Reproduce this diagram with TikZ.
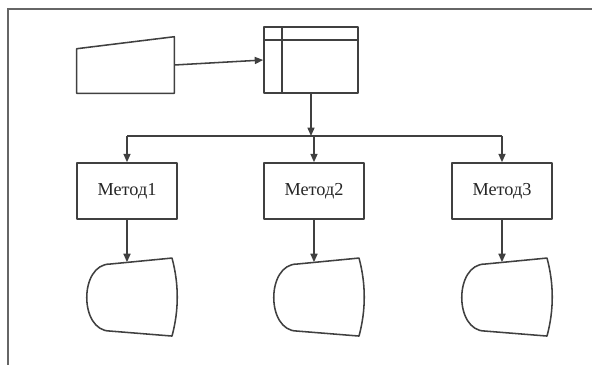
\documentclass[tikz,border=0pt]{standalone}
\usepackage{fontspec}
\setmainfont{Liberation Serif}
\usetikzlibrary{arrows.meta}
\usetikzlibrary{positioning}

\begin{document}
\begin{tikzpicture}[
  line/.style={draw=black!75, line width=1.1pt, line join=round},
  arr/.style={line, -{Triangle[width=5pt, length=6pt]}},
  blank/.style={rectangle, inner sep=0pt},
  block/.style={line, rectangle, minimum width=2.5cm, minimum height=1.4cm,
    font=\fontsize{13}{15}\selectfont, text=black!85}
]
\useasboundingbox (0, 0) rectangle (14.8, -9.125);

\draw[draw=black!60, line width=1.4pt] (14.8, -0.225) -- (0.2, -0.225) -- (0.2, -9.125);

\node[blank, minimum width=2.425cm, minimum height=1.4cm] (input) at (3.1375, -1.625) {};
\draw[line] (input.south west) -- ([yshift=-0.3cm]input.north west)
  -- (input.north east) -- (input.south east) -- cycle;

\node[line, blank, minimum width=2.35cm, minimum height=1.65cm] (table) at (7.775, -1.5) {};
\draw[line] ([yshift=-0.35cm]table.north west) -- ([yshift=-0.35cm]table.north east);
\draw[line] ([xshift=0.475cm]table.north west) -- ([xshift=0.475cm]table.south west);

\draw[arr] (input.east) -- (table.west);

\node[block] (m1) at ( 3.175, -4.775) {Метод1};
\node[block] (m2) at ( 7.85,  -4.775) {Метод2};
\node[block] (m3) at (12.55,  -4.775) {Метод3};

\coordinate (bus) at (7.8, -3.4);
\draw[arr] (table) -- (table |- bus);
\draw[line] (m1 |- bus) -- (m3 |- bus);
\foreach \m in {m1, m2, m3}
  \draw[arr] (\m |- bus) -- (\m);

\foreach \m/\d in {m1/d1, m2/d2, m3/d3} {
  \node[blank, minimum width=2.25cm, minimum height=1.73cm, below=1.06cm of \m] (\d) {};
  \draw[arr] (\m) -- (\d);
  \draw[line, shift={(\d.center)}] (1.125, 0.975)
    .. controls (1.3, 0.325) and (1.3, -0.325) .. (1.125, -0.975)
    -- (-0.425, -0.85)
    .. controls (-1.2, -0.85) and (-1.2, 0.825) .. (-0.425, 0.825)
    -- cycle;
}

\end{tikzpicture}
\end{document}
